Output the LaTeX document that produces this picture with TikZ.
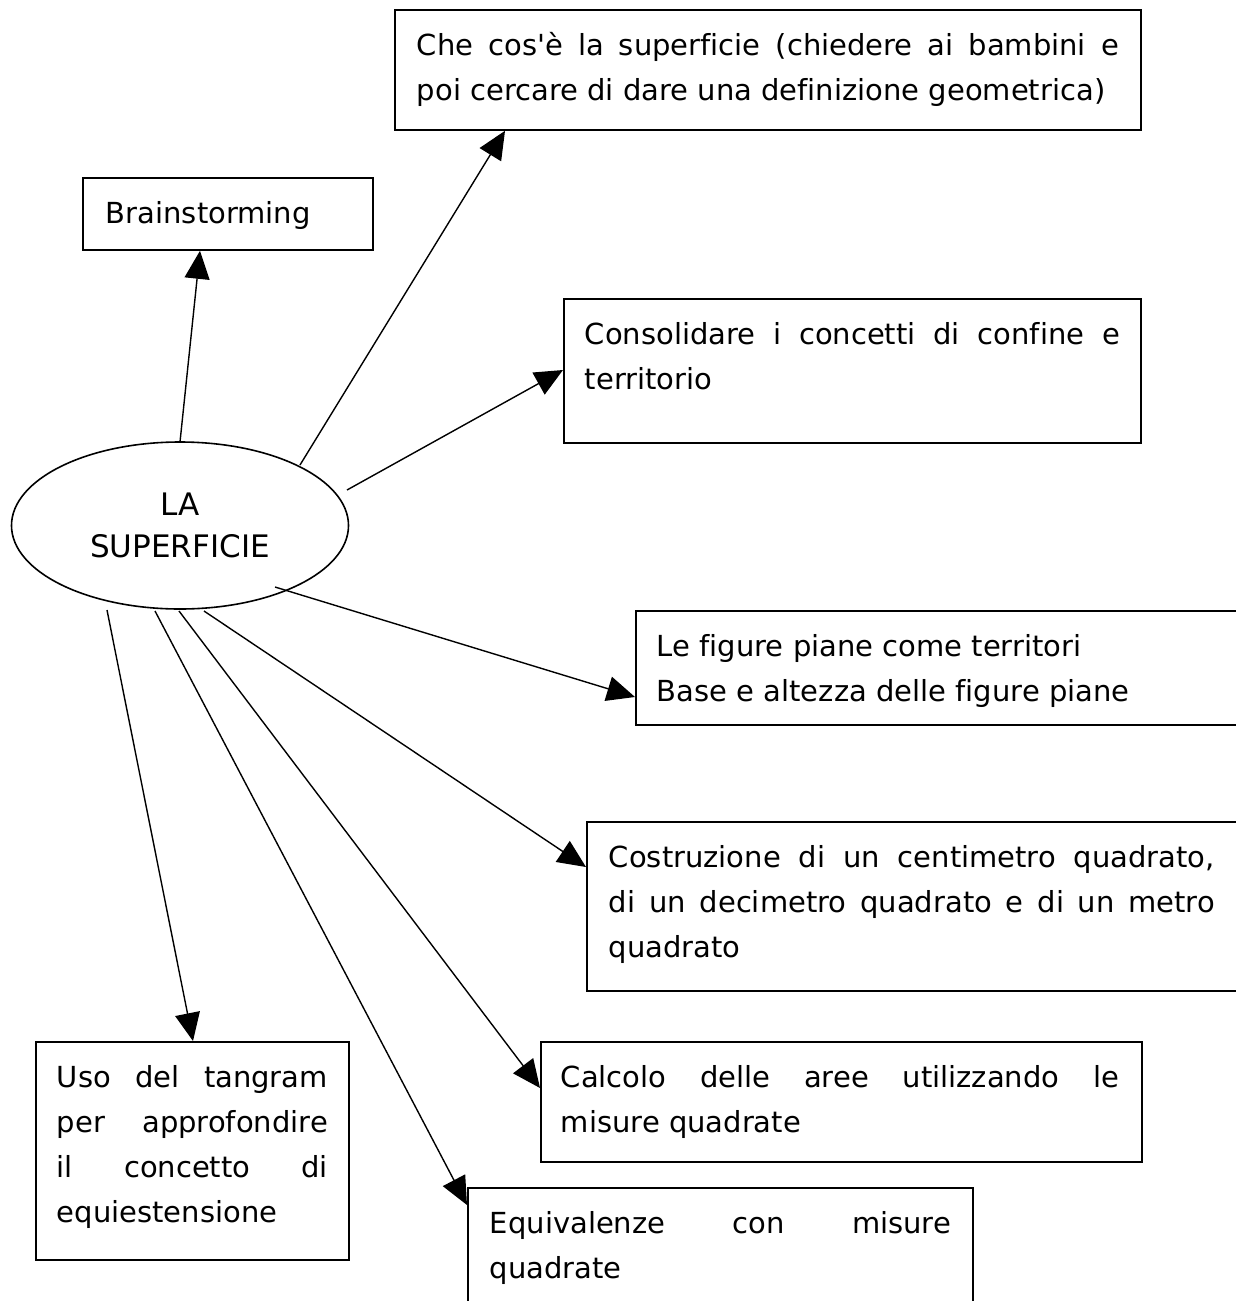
\documentclass[tikz,border=0pt]{standalone}
\usepackage{fontspec}
\setmainfont{DejaVu Sans}[Ligatures={CommonOff,TeXOff}]
\usetikzlibrary{shapes.geometric,arrows.meta,calc}
\newcommand\jl[2]{\makebox[#1][s]{#2}}
\newcommand\bt[3]{\parbox[c][#1][t]{#2}{\rule{0pt}{46pt}#3}}
\begin{document}
\begin{tikzpicture}[x=1pt,y=-1pt,
  box/.style={draw, line width=1.8pt, rectangle, anchor=north west, inner ysep=0pt,
    font=\fontsize{29pt}{45pt}\selectfont},
  oval/.style={draw, ellipse, line width=1.6pt, inner sep=0pt, align=center,
    font=\fontsize{31pt}{42pt}\selectfont},
  conn/.style={line width=1.4pt, -{Triangle[length=28pt,width=25pt]}}]
\useasboundingbox (0,0) rectangle (1235,1301);
\fill[white] (0,0) rectangle (1235,1301);

% central ellipse
\node[oval, minimum width=337pt, minimum height=167pt] (ell) at (180,525.5) {LA\\SUPERFICIE};

% boxes
\node[box, inner xsep=23pt] (b1) at (82,177) {\bt{72pt}{244pt}{Brainstorming}};
\node[box, inner xsep=22pt] (b2) at (394,9) {\bt{120pt}{702pt}{\jl{702pt}{Che cos'è la superficie (chiedere ai bambini e}\\poi cercare di dare una definizione geometrica)}};
\node[box, inner xsep=21pt] (b3) at (563,298) {\bt{144pt}{535pt}{\jl{535pt}{Consolidare i concetti di confine e}\\territorio}};
\node[box, inner xsep=21pt] (b4) at (635,610) {\bt{114pt}{583pt}{Le figure piane come territori\\Base e altezza delle figure piane}};
\node[box, inner xsep=22pt] (b5) at (586,821) {\bt{169pt}{630pt}{\jl{606pt}{Costruzione di un centimetro quadrato,}\\\jl{606pt}{di un decimetro quadrato e di un metro}\\quadrato}};
\node[box, inner xsep=20pt] (b6) at (540,1041) {\bt{120pt}{561pt}{\jl{558pt}{Calcolo delle aree utilizzando le}\\misure quadrate}};
\node[box, inner xsep=22pt] (b7) at (467,1187) {\bt{133pt}{461pt}{\jl{461pt}{Equivalenze con misure}\\quadrate}};
\node[box, inner xsep=21pt] (b8) at (35,1041) {\bt{218pt}{271pt}{\jl{271pt}{Uso del tangram}\\\jl{271pt}{per approfondire}\\\jl{271pt}{il concetto di}\\equiestensione}};

% connector start points near the ellipse
\coordinate (s1) at (180,442);
\coordinate (s2) at (300,465);
\coordinate (s3) at (347,490);
\coordinate (s4) at (275,587);
\coordinate (s5) at (204,611);
\coordinate (s6) at (179,611);
\coordinate (s7) at (155,611);
\coordinate (s8) at (107,610);

% connectors
\draw[conn] (s1) -- ($(b1.south west)+(118,0)$);
\draw[conn] (s2) -- ($(b2.south west)+(111,0)$);
\draw[conn] (s3) -- ($(b3.north west)+(0,72)$);
\draw[conn] (s4) -- ($(b4.north west)+(0,87)$);
\draw[conn] (s5) -- ($(b5.north west)+(0,46)$);
\draw[conn] (s6) -- ($(b6.north west)+(0,47)$);
\draw[conn] (s7) -- ($(b7.north west)+(0,18)$);
\draw[conn] (s8) -- ($(b8.north west)+(158,0)$);
\end{tikzpicture}
\end{document}
